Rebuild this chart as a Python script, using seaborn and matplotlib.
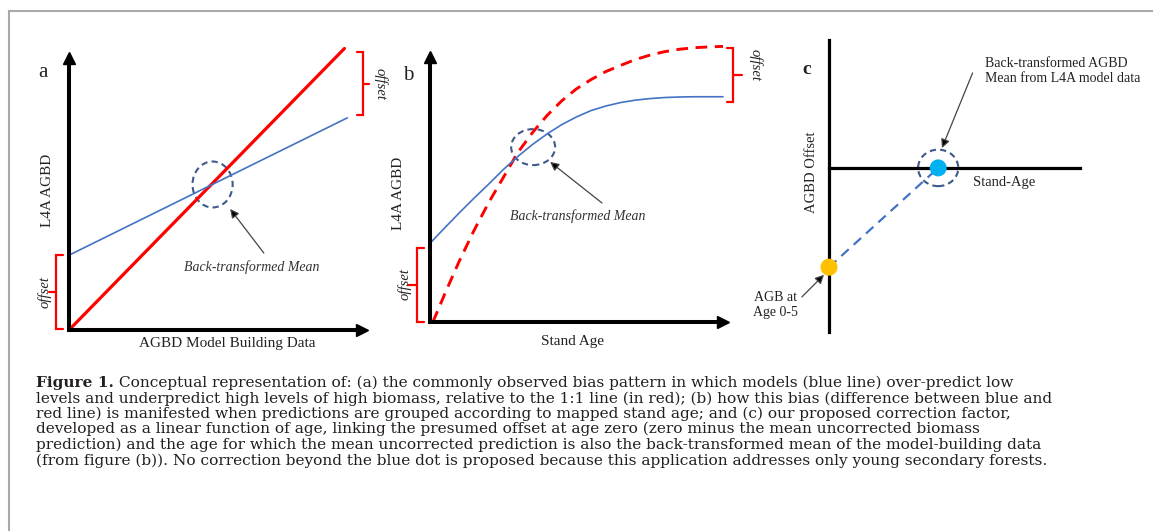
import matplotlib
matplotlib.use("Agg")
import matplotlib.pyplot as plt
import seaborn as sns
import numpy as np
import pandas as pd
from matplotlib.patches import Ellipse, Rectangle

# ---------------- data (conceptual units) ----------------
# panel a: model (blue) vs 1:1 reference (red)
a_obs_model = [0.0, 9.5]
a_pred_model = [2.75, 7.8]
a_obs_ref = [0.0, 9.4]
a_pred_ref = [0.0, 10.35]

# panel b: prediction vs stand age
b_age_model = [0, 0.5, 1, 1.5, 2, 2.5, 3, 3.5, 4, 4.5, 5, 5.5, 6, 6.5, 7, 7.5, 8, 8.5, 9, 9.5, 10]
b_pred_model = [2.97, 3.55, 4.12, 4.67, 5.2, 5.75, 6.25, 6.7, 7.1, 7.45, 7.74, 7.98,
                8.15, 8.28, 8.37, 8.43, 8.47, 8.49, 8.5, 8.5, 8.5]
b_age_ref = [0.1, 0.5, 1, 1.5, 2, 2.5, 3, 3.5, 4, 4.5, 5, 5.5, 6, 6.5, 7, 7.5, 8, 8.5, 9, 9.5, 10]
b_pred_ref = [0.0, 1.05, 2.3, 3.45, 4.5, 5.45, 6.4, 7.15, 7.8, 8.35, 8.8, 9.15, 9.45,
              9.68, 9.9, 10.07, 10.2, 10.29, 10.35, 10.38, 10.4]

# panel c: offset vs stand age
c_age = [0.0, 4.35]
c_offset = [-3.4, 0.0]
c_point_color = ["#ffc000", "#00b0f0"]

caption_lines = [
    "Conceptual representation of: (a) the commonly observed bias pattern in which models (blue line) over-predict low",
    "levels and underpredict high levels of high biomass, relative to the 1:1 line (in red); (b) how this bias (difference between blue and",
    "red line) is manifested when predictions are grouped according to mapped stand age; and (c) our proposed correction factor,",
    "developed as a linear function of age, linking the presumed offset at age zero (zero minus the mean uncorrected biomass",
    "prediction) and the age for which the mean uncorrected prediction is also the back-transformed mean of the model-building data",
    "(from figure (b)). No correction beyond the blue dot is proposed because this application addresses only young secondary forests.",
]

# ---------------- style ----------------
sns.set_theme(style="white")
plt.rcParams["font.family"] = ["Liberation Serif", "DejaVu Serif"]

W, H = 1153, 531
fig = plt.figure(figsize=(W / 100, H / 100), dpi=100)
fig.patch.set_facecolor("white")

RED = "#ff0000"
BLUE = "#4472c4"
CIRC = "#3d5a8a"
TXT = "#222222"


def add_ax(l, t, r, b):
    ax = fig.add_axes([l / W, 1 - b / H, (r - l) / W, (b - t) / H])
    ax.set_facecolor("none")
    ax.set_xticks([])
    ax.set_yticks([])
    for s in ["top", "right"]:
        ax.spines[s].set_visible(False)
    return ax


def arrow_axes(ax, lw=2.9):
    for s in ["left", "bottom"]:
        ax.spines[s].set_linewidth(lw)
        ax.spines[s].set_color("black")
    ax.plot(0, 1, "^", color="black", ms=9, transform=ax.transAxes, clip_on=False)
    ax.plot(1, 0, ">", color="black", ms=9, transform=ax.transAxes, clip_on=False)


def bracket(ax, x, y0, y1, tick, mid_tick, color=RED):
    ym = (y0 + y1) / 2
    ax.plot([x + tick, x, x, x + tick], [y0, y0, y1, y1], color=color, lw=1.6,
            clip_on=False, solid_joinstyle="miter")
    ax.plot([x, x + mid_tick], [ym, ym], color=color, lw=1.6, clip_on=False)


def pointer(ax, head, tail, color="#444444"):
    ax.annotate("", xy=head, xytext=tail,
                arrowprops=dict(arrowstyle="-|>", color=color, lw=0.9,
                                mutation_scale=13, shrinkA=0, shrinkB=0,
                                fc="black", ec=color),
                annotation_clip=False)


# ---------------- panel a ----------------
axa = add_ax(69, 58, 362, 330)
axa.set_xlim(0, 10)
axa.set_ylim(0, 10)
arrow_axes(axa)
sns.lineplot(x=a_obs_ref, y=a_pred_ref, ax=axa, color=RED, lw=2.3, estimator=None)
sns.lineplot(x=a_obs_model, y=a_pred_model, ax=axa, color=BLUE, lw=1.2, estimator=None)
for l in axa.lines[-2:]:
    l.set_clip_on(False)
axa.add_patch(Ellipse((4.9, 5.35), 1.37, 1.69, fill=False, ec=CIRC, lw=1.5,
                      ls=(0, (3, 2)), clip_on=False))
pointer(axa, (5.5, 4.45), (6.65, 2.83))
axa.text(6.25, 2.3, "Back-transformed Mean", style="italic", fontsize=10,
         ha="center", va="center", color="#333333")
bracket(axa, -0.44, 0.05, 2.75, 0.22, -0.25)
axa.text(-0.82, 1.4, "offset", style="italic", fontsize=10.5, rotation=90,
         ha="center", va="center", color=TXT)
bracket(axa, 10.05, 7.9, 10.22, -0.22, 0.2)
axa.text(10.62, 9.06, "offset", style="italic", fontsize=10.5, rotation=-90,
         ha="center", va="center", color=TXT)
axa.text(-0.72, 5.15, "L4A AGBD", fontsize=11, rotation=90, ha="center",
         va="center", color=TXT)
axa.text(5.4, -0.48, "AGBD Model Building Data", fontsize=11, ha="center",
         va="center", color=TXT)
axa.text(-0.89, 9.45, "a", fontsize=15, ha="center", va="center", color=TXT)

# ---------------- panel b ----------------
axb = add_ax(430, 57, 723, 322)
axb.set_xlim(0, 10)
axb.set_ylim(0, 10)
arrow_axes(axb)
sns.lineplot(x=b_age_ref, y=b_pred_ref, ax=axb, color=RED, lw=2.1,
             linestyle=(0, (4, 2.6)), estimator=None)
sns.lineplot(x=b_age_model, y=b_pred_model, ax=axb, color=BLUE, lw=1.2, estimator=None)
for l in axb.lines[-2:]:
    l.set_clip_on(False)
axb.add_patch(Ellipse((3.52, 6.6), 1.5, 1.36, fill=False, ec=CIRC, lw=1.5,
                      ls=(0, (3, 2)), clip_on=False))
pointer(axb, (4.1, 6.04), (5.87, 4.49))
axb.text(5.05, 4.0, "Back-transformed Mean", style="italic", fontsize=10,
         ha="center", va="center", color="#333333")
bracket(axb, -0.44, 0.0, 2.79, 0.22, -0.3)
axb.text(-0.88, 1.45, "offset", style="italic", fontsize=10.5, rotation=90,
         ha="center", va="center", color=TXT)
bracket(axb, 10.34, 8.3, 10.34, -0.22, 0.3)
axb.text(11.12, 9.7, "offset", style="italic", fontsize=10.5, rotation=-90,
         ha="center", va="center", color=TXT)
axb.text(-1.06, 4.87, "L4A AGBD", fontsize=11, rotation=90, ha="center",
         va="center", color=TXT)
axb.text(4.85, -0.75, "Stand Age", fontsize=11, ha="center", va="center", color=TXT)
axb.text(-0.75, 9.32, "b", fontsize=15, ha="center", va="center", color=TXT)

# ---------------- panel c ----------------
axc = add_ax(829, 40, 1080, 332)
axc.set_xlim(0, 10)
axc.set_ylim(-5.62, 4.38)
axc.spines["left"].set_linewidth(2.3)
axc.spines["left"].set_color("black")
axc.spines["bottom"].set_position(("data", 0))
axc.spines["bottom"].set_linewidth(2.3)
axc.spines["bottom"].set_color("black")
sns.lineplot(x=c_age, y=c_offset, ax=axc, color=BLUE, lw=1.6,
             linestyle=(0, (4.5, 3)), estimator=None)
sns.scatterplot(x=c_age, y=c_offset, hue=c_point_color, palette=c_point_color,
                s=150, ax=axc, legend=False, edgecolor="none", zorder=5, clip_on=False)
axc.add_patch(Ellipse((4.35, 0.0), 1.6, 1.25, fill=False, ec=CIRC, lw=1.5,
                      ls=(0, (3, 2)), clip_on=False))
pointer(axc, (4.5, 0.68), (5.72, 3.25))
pointer(axc, (-0.2, -3.66), (-1.08, -4.42))
axc.text(-0.88, 3.36, "c", fontsize=14, fontweight="bold", ha="center",
         va="center", color=TXT)
axc.text(-0.68, -0.14, "AGBD Offset", fontsize=10.5, rotation=90, ha="center",
         va="center", color=TXT)
axc.text(5.74, -0.51, "Stand-Age", fontsize=10.5, ha="left", va="center", color=TXT)
axc.text(6.2, 3.32, "Back-transformed AGBD\nMean from L4A model data",
         fontsize=10, ha="left", va="center", linespacing=1.2, color=TXT)
axc.text(-2.15, -4.69, "AGB at\nAge 0-5", fontsize=10, ha="center", va="center",
         linespacing=1.25, color=TXT)

# ---------------- border ----------------
fig.patches.append(Rectangle((9 / W, -0.1), 1.2, 1.1 - 11 / H,
                             transform=fig.transFigure, fill=False,
                             ec="#aaaaaa", lw=1.5))

# ---------------- caption ----------------
cap_font = ["DejaVu Serif"]
cap_size = 11.05
x0 = 36
baselines = [387, 402.5, 418, 433.5, 449, 464.5]
renderer = fig.canvas.get_renderer()
bold = fig.text(x0 / W, 1 - baselines[0] / H, "Figure 1.", fontsize=cap_size,
                family=cap_font, fontweight="bold", ha="left", va="baseline",
                color="#231f20")
bw = bold.get_window_extent(renderer=renderer).width
fig.text((x0 + bw) / W, 1 - baselines[0] / H, " " + caption_lines[0],
         fontsize=cap_size, family=cap_font, ha="left", va="baseline",
         color="#231f20")
for line, yb in zip(caption_lines[1:], baselines[1:]):
    fig.text(x0 / W, 1 - yb / H, line, fontsize=cap_size, family=cap_font,
             ha="left", va="baseline", color="#231f20")

fig.savefig("out.png", dpi=100, facecolor="white")
